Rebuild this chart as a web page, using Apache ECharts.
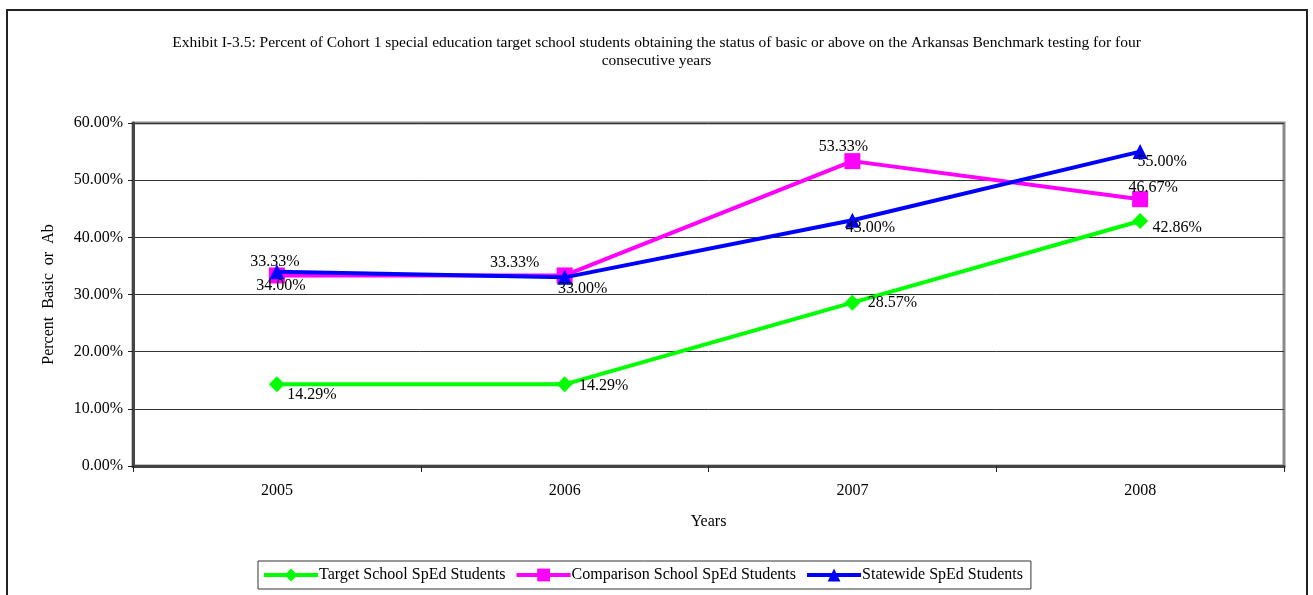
<!DOCTYPE html>
<html>
<head>
<meta charset="utf-8">
<script src="https://cdn.jsdelivr.net/npm/echarts@6/dist/echarts.min.js"></script>
<style>
html,body{margin:0;padding:0;background:#fff;}
#c{width:1313px;height:595px;}
</style>
</head>
<body>
<div id="c"></div>
<script>
const titleText = 'Exhibit I-3.5: Percent of Cohort 1 special education target school students obtaining the status of basic or above on the Arkansas Benchmark testing for four\nconsecutive years';
const categories = ['2005', '2006', '2007', '2008'];
const yTicks = [0, 10, 20, 30, 40, 50, 60];
const seriesNames = ['Target School SpEd Students', 'Comparison School SpEd Students', 'Statewide SpEd Students'];
const targetValues = [14.29, 14.29, 28.57, 42.86];
const comparisonValues = [33.33, 33.33, 53.33, 46.67];
const statewideValues = [34.00, 33.00, 43.00, 55.00];

// label offsets (presentation only)
const targetOffsets = [[35, 10], [39, 1], [40, 0], [37, 7]];
const comparisonOffsets = [[-2, -14], [-50, -13], [-9, -14], [13, -11]];
const statewideOffsets = [[4, 14], [18, 11], [18, 8], [22, 10]];

const FONT = "'Liberation Serif', 'Times New Roman', serif";

function withLabels(values, offsets) {
  return values.map((v, i) => ({
    value: v,
    label: { show: true, position: 'inside', offset: offsets[i] }
  }));
}

const labelStyle = {
  show: true,
  formatter: p => p.value.toFixed(2) + '%',
  color: '#000',
  fontFamily: FONT,
  fontSize: 16
};

const chart = echarts.init(document.getElementById('c'), null, { renderer: 'canvas' });
chart.setOption({
  animation: false,
  backgroundColor: '#fff',
  title: {
    text: titleText,
    left: 'center',
    top: 29,
    textStyle: { fontFamily: FONT, fontSize: 15.5, fontWeight: 'normal', color: '#000', lineHeight: 18 }
  },
  graphic: [{
    type: 'rect',
    shape: { x: 7, y: 10, width: 1300, height: 620 },
    style: { fill: null, stroke: '#222', lineWidth: 2 },
    silent: true, z: -1
  }],
  legend: {
    bottom: 6,
    left: 258,
    padding: [6, 8, 6, 4],
    itemGap: 9,
    itemWidth: 54,
    itemHeight: 16,
    borderColor: '#333',
    borderWidth: 1,
    lineStyle: { width: 4 },
    textStyle: { fontFamily: FONT, fontSize: 16, color: '#000', padding: [0, 0, 0, -4] },
    data: seriesNames
  },
  grid: {
    left: 133, right: 29, top: 123, bottom: 129,
    show: true, borderColor: '#8a8a8a', borderWidth: 3, backgroundColor: '#fff'
  },
  xAxis: {
    type: 'category',
    data: categories,
    boundaryGap: true,
    name: 'Years',
    nameLocation: 'middle',
    nameGap: 48,
    nameTextStyle: { fontFamily: FONT, fontSize: 16, color: '#000' },
    axisLine: { show: true, lineStyle: { color: '#444', width: 3 } },
    axisTick: { show: true, inside: false, length: 6, lineStyle: { color: '#222', width: 1 } },
    axisLabel: { fontFamily: FONT, fontSize: 16, color: '#000', margin: 17 },
    splitLine: { show: false }
  },
  yAxis: {
    type: 'value',
    min: yTicks[0],
    max: yTicks[yTicks.length - 1],
    interval: yTicks[1] - yTicks[0],
    name: 'Percent  Basic  or  Ab',
    nameLocation: 'middle',
    nameGap: 76,
    nameRotate: 90,
    nameTextStyle: { fontFamily: FONT, fontSize: 16, color: '#000' },
    axisLine: { show: true, lineStyle: { color: '#444', width: 3 } },
    axisTick: { show: true, inside: false, length: 5, lineStyle: { color: '#222', width: 1 } },
    axisLabel: { fontFamily: FONT, fontSize: 16, color: '#000', margin: 10, formatter: v => v.toFixed(2) + '%' },
    splitLine: { show: true, lineStyle: { color: '#333', width: 1 } }
  },
  series: [
    {
      name: seriesNames[0], type: 'line',
      data: withLabels(targetValues, targetOffsets),
      symbol: 'diamond', symbolSize: 16,
      lineStyle: { color: '#00ff00', width: 4 },
      itemStyle: { color: '#00ff00' },
      label: labelStyle, z: 2
    },
    {
      name: seriesNames[1], type: 'line',
      data: withLabels(comparisonValues, comparisonOffsets),
      symbol: 'rect', symbolSize: 16,
      lineStyle: { color: '#ff00ff', width: 4 },
      itemStyle: { color: '#ff00ff' },
      label: labelStyle, z: 3
    },
    {
      name: seriesNames[2], type: 'line',
      data: withLabels(statewideValues, statewideOffsets),
      symbol: 'triangle', symbolSize: 15,
      lineStyle: { color: '#0000ff', width: 4 },
      itemStyle: { color: '#0000ff' },
      label: labelStyle, z: 4
    }
  ]
});
</script>
</body>
</html>
